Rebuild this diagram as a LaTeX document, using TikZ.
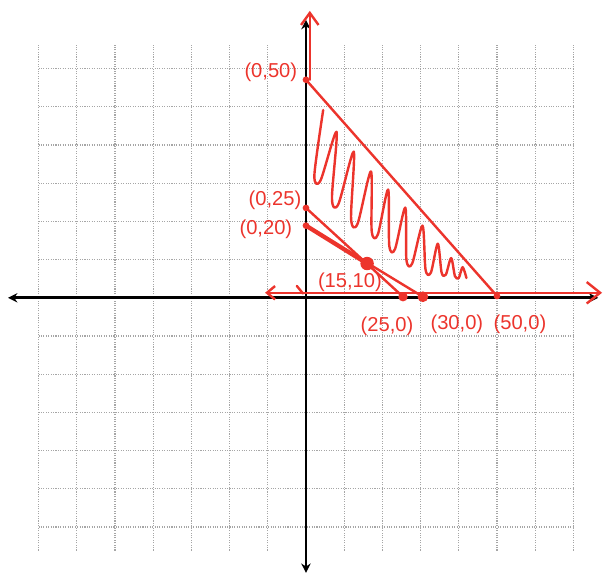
\documentclass[tikz,border=0pt]{standalone}
\usepackage{fontspec}
\setmainfont{Liberation Sans}
\usetikzlibrary{arrows.meta}
\definecolor{marker}{RGB}{236,52,44}
\begin{document}
\begin{tikzpicture}[x=1.0cm,y=0.945cm,
  ink/.style={draw=marker,line width=1.8pt,line cap=round,line join=round},
  lbl/.style={text=marker,font=\fontsize{15}{18}\selectfont,inner sep=0pt}]
\useasboundingbox (-8.01,-7.73) rectangle (7.88,8.25);
\draw[gray!70,densely dotted,line width=0.8pt] (-7,-7) grid (7,7);
\draw[line width=2pt,{Stealth[length=7pt,width=7pt]}-{Stealth[length=7pt,width=7pt]}] (-7.8,0)--(7.65,0);
\draw[line width=2pt,{Stealth[length=7pt,width=7pt]}-{Stealth[length=7pt,width=7pt]}] (0,-7.62)--(0,7.7);
\coordinate (p50) at (0,6.04);
\coordinate (q50) at (5.0,0.05);
\coordinate (p25) at (0,2.49);
\coordinate (q25) at (2.54,0.03);
\coordinate (p20) at (0,2.0);
\coordinate (q30) at (3.06,0.03);
\coordinate (opt) at (1.6,0.95);
\draw[ink,-{Straight Barb[length=9pt,width=13pt]}] (0.1,6.04)--(0.1,7.95);
\draw[ink,{Straight Barb[length=6pt,width=10pt]}-{Straight Barb[length=10pt,width=16pt]}] (-1.07,0.14)--(7.75,0.14);
\draw[ink] (-0.24,0.33)--(-0.08,0.12);
\draw[ink] (p50)--(q50);
\draw[ink] (p25)--(q25);
\draw[ink] (p20)--(q30);
\draw[ink,line width=3.2pt] (p20)--(opt);
\draw[ink] plot[smooth,tension=0.5] coordinates {(0.45,5.2) (0.22,3.4) (0.38,3.25) (0.8,4.6) (0.68,2.75) (0.85,2.6) (1.25,4.05) (1.18,2.2) (1.35,2.05) (1.7,3.5) (1.72,1.85) (1.88,1.75) (2.15,3.0) (2.18,1.45) (2.33,1.35) (2.6,2.5) (2.63,1.05) (2.78,0.95) (3.05,2.0) (3.13,0.78) (3.27,0.7) (3.45,1.5) (3.55,0.7) (3.66,0.64) (3.8,1.1) (3.9,0.6) (4.0,0.55) (4.1,0.85) (4.2,0.55)};
\fill[marker] (p50) circle (2.5pt);
\fill[marker] (p25) circle (2.5pt);
\fill[marker] (p20) circle (2.5pt);
\fill[marker] (opt) circle (5pt);
\fill[marker] (q25) circle (3.5pt);
\fill[marker] (q30) circle (4pt);
\fill[marker] (q50) circle (2.5pt);
\node[lbl] (l50) at (-0.92,6.26) {(0,50)};
\node[lbl] (l25) at (-0.81,2.69) {(0,25)};
\node[lbl] (l20) at (-1.05,1.91) {(0,20)};
\node[lbl] (lopt) at (1.15,0.42) {(15,10)};
\node[lbl] (m25) at (2.12,-0.78) {(25,0)};
\node[lbl] (m30) at (3.95,-0.72) {(30,0)};
\node[lbl] (m50) at (5.6,-0.72) {(50,0)};
\end{tikzpicture}
\end{document}
